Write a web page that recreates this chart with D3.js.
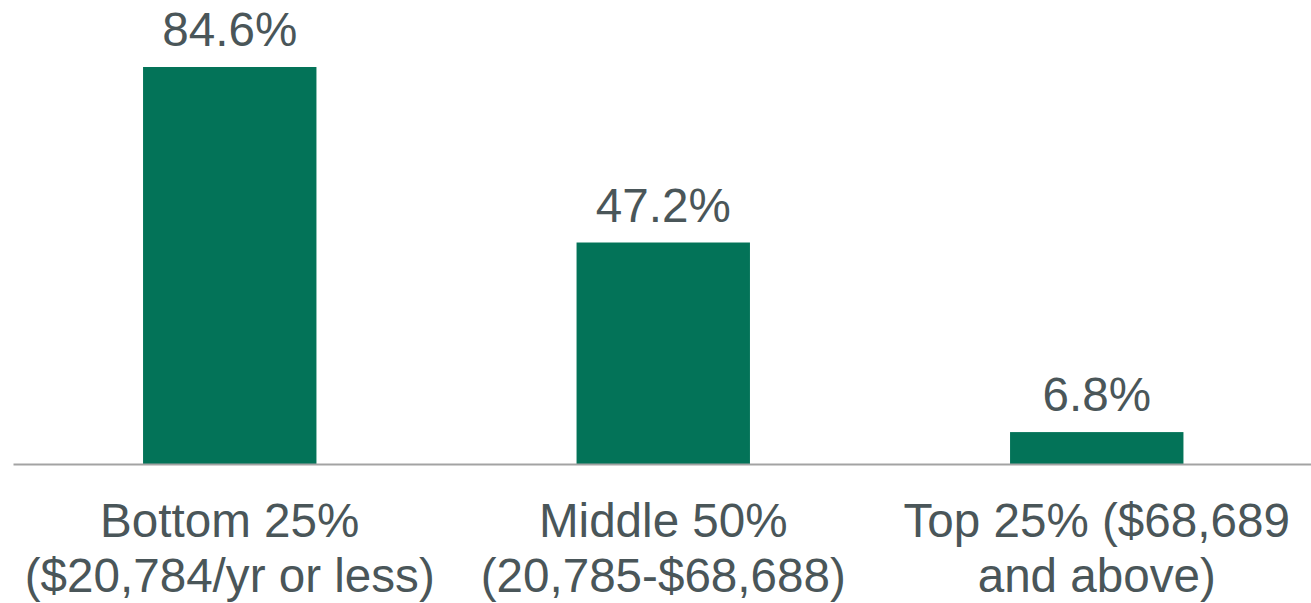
<!DOCTYPE html>
<html>
<head>
<meta charset="utf-8">
<script src="https://cdn.jsdelivr.net/npm/d3@7"></script>
<style>
  html, body { margin: 0; padding: 0; background: #ffffff; }
  svg { display: block; }
</style>
</head>
<body>
<svg id="chart" width="1311" height="603"></svg>
<script>
// Share by income group
const categories = ["Bottom 25%|($20,784/yr or less)", "Middle 50%|(20,785-$68,688)", "Top 25% ($68,689|and above)"];
const values = [84.6, 47.2, 6.8];
const valueLabels = ["84.6%", "47.2%", "6.8%"];

const baseY = 464;
const svg = d3.select("#chart");

const x = d3.scaleBand()
  .domain(categories)
  .range([13, 1313.5])
  .paddingInner(0.6)
  .paddingOuter(0.3);

const y = d3.scaleLinear()
  .domain([0, 84.6])
  .range([baseY, 67]);

const textColor = "#4a5659";
const font = "'Liberation Sans', Arial, sans-serif";
const fontSize = 47.6;

// Bars
svg.selectAll("rect.bar")
  .data(values)
  .join("rect")
  .attr("class", "bar")
  .attr("x", (d, i) => x(categories[i]))
  .attr("y", d => y(d))
  .attr("width", x.bandwidth())
  .attr("height", d => baseY - y(d))
  .attr("fill", "#037358");

// Baseline axis
const axis = d3.axisBottom(x).tickSize(0).tickFormat("");
const gAxis = svg.append("g").attr("transform", `translate(0,${baseY})`).call(axis);
gAxis.select(".domain").attr("stroke", "#a3a3a3").attr("stroke-width", 2);

// Value labels
svg.selectAll("text.val")
  .data(values)
  .join("text")
  .attr("class", "val")
  .attr("x", (d, i) => x(categories[i]) + x.bandwidth() / 2)
  .attr("y", d => y(d) - 21)
  .attr("text-anchor", "middle")
  .attr("font-family", font)
  .attr("font-size", fontSize)
  .attr("fill", textColor)
  .text((d, i) => valueLabels[i]);

// Category labels (two lines)
const cat = svg.selectAll("text.cat")
  .data(categories)
  .join("text")
  .attr("class", "cat")
  .attr("text-anchor", "middle")
  .attr("font-family", font)
  .attr("font-size", fontSize)
  .attr("fill", textColor);

cat.each(function (d) {
  const cx = x(d) + x.bandwidth() / 2;
  d.split("|").forEach((line, j) => {
    d3.select(this).append("tspan")
      .attr("x", cx)
      .attr("y", 537 + j * 55)
      .text(line);
  });
});
</script>
</body>
</html>
